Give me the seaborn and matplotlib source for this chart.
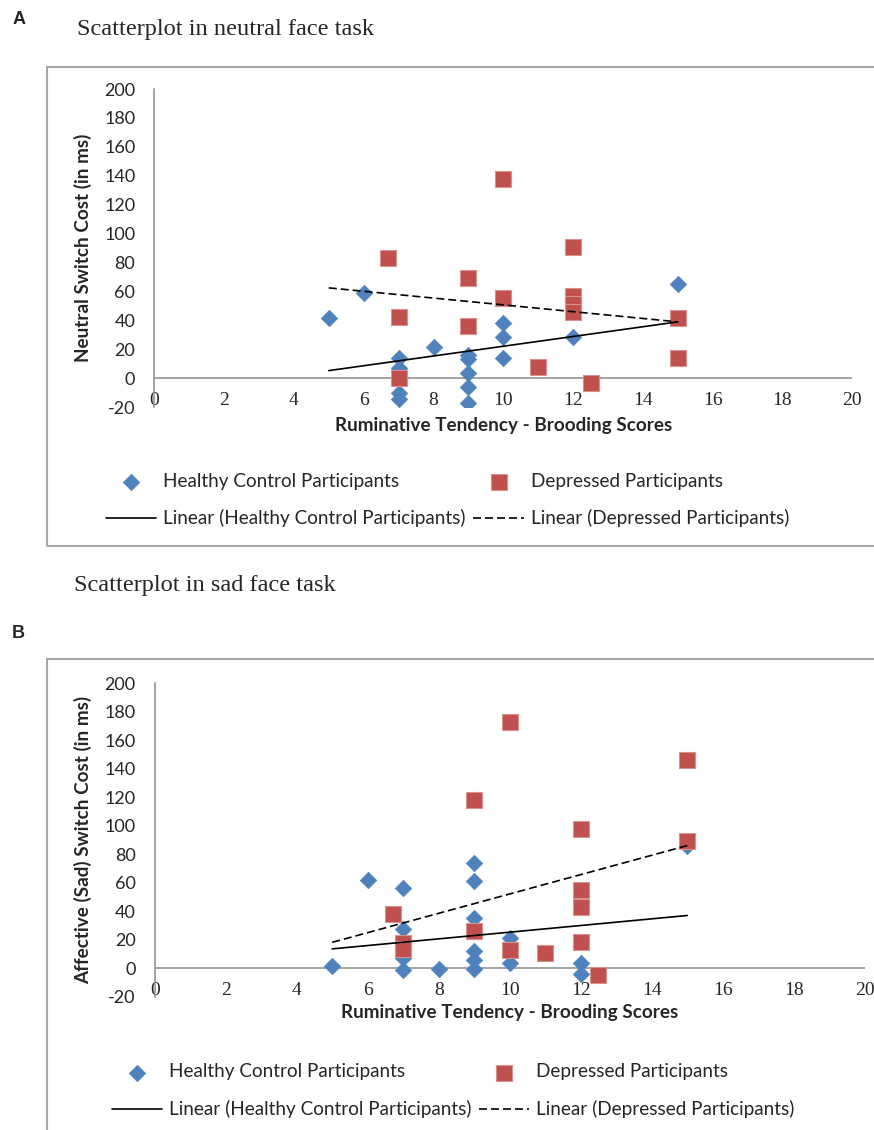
import matplotlib
matplotlib.use("Agg")
import matplotlib.pyplot as plt
import seaborn as sns
from matplotlib.patches import Rectangle

# ---------------- data ----------------
brooding_healthy_a = [5, 6, 7, 7, 7, 7, 8, 9, 9, 9, 9, 9, 10, 10, 10, 12, 15]
neutral_cost_healthy = [42, 59, 14, 7, -10.5, -14.5, 21.5, 16, 13.5, 3.5, -5.8, -17.3,
                        38, 28.3, 14, 28.8, 65]
brooding_depressed = [6.7, 7, 7, 9, 9, 10, 10, 11, 12, 12, 12, 12, 12.5, 15, 15]
neutral_cost_depressed = [83.5, 42.6, 0, 69, 36.4, 138, 55.3, 7.6, 90.5, 57, 51.5, 46,
                          -3, 41.7, 14]

brooding_healthy_b = [5, 6, 7, 7, 7, 7, 8, 9, 9, 9, 9, 9, 9, 10, 10, 12, 12, 15]
sad_cost_healthy = [1.5, 62, 56.5, 27.5, 7, -1, -0.7, 73.5, 61.5, 35, 12, 6, -0.7,
                    21, 4, 3.5, -4, 86]
sad_cost_depressed = [38, 18, 13.5, 118, 26, 172.5, 12.5, 11, 97.5, 55, 43, 18.5,
                      -5, 146, 89.5]

trend_x = [5, 15]
neutral_trend_healthy = [5.3, 39]
neutral_trend_depressed = [62.5, 39]
sad_trend_healthy = [13.6, 37]
sad_trend_depressed = [18.2, 86]

x_ticks = [0, 2, 4, 6, 8, 10, 12, 14, 16, 18, 20]
y_ticks = [-20, 0, 20, 40, 60, 80, 100, 120, 140, 160, 180, 200]

label_healthy = "Healthy Control Participants"
label_depressed = "Depressed Participants"
label_lin_healthy = "Linear (Healthy Control Participants)"
label_lin_depressed = "Linear (Depressed Participants)"

# ---------------- style ----------------
sns.set_style("white")
plt.rcParams["font.family"] = ["Lato", "DejaVu Sans"]

BLUE = "#4F81BD"
RED = "#C0504D"
AXGREY = "#8C8C8C"
BOXGREY = "#A6A6A6"

W, H = 874, 1130
fig = plt.figure(figsize=(W / 100, H / 100), dpi=100)


def fx(px):
    return px / W


def fy(py):
    return 1 - py / H


def panel(ax, hx, hy, dx, dy, th, td, ylabel, xlab_off, ylab_x):
    sns.scatterplot(x=hx, y=hy, ax=ax, marker="D", s=72, color=BLUE,
                    edgecolor=BLUE, linewidth=0.4, label=label_healthy, zorder=3)
    sns.scatterplot(x=dx, y=dy, ax=ax, marker="s", s=118, color=RED,
                    edgecolor="#D9928F", linewidth=0.8, label=label_depressed, zorder=4)
    sns.lineplot(x=trend_x, y=th, ax=ax, color="black", lw=1.2,
                 label=label_lin_healthy, zorder=5)
    sns.lineplot(x=trend_x, y=td, ax=ax, color="black", lw=1.2,
                 linestyle=(0, (4.8, 2.4)), label=label_lin_depressed, zorder=5)
    ax.axhline(0, color=AXGREY, lw=1.1, zorder=1)
    ax.set_xlim(0, 20)
    ax.set_ylim(-20, 200)
    ax.set_xticks(x_ticks)
    ax.set_xticklabels([str(v) for v in x_ticks], family="Liberation Serif", fontsize=14)
    ax.set_yticks(y_ticks)
    ax.set_yticklabels([str(v) for v in y_ticks], fontsize=13)
    ax.tick_params(axis="x", length=0, pad=-4.75)
    ax.tick_params(axis="y", length=0, pad=13.7)
    plt.setp(ax.get_xticklabels(), va="center")
    for s in ["top", "right", "bottom"]:
        ax.spines[s].set_visible(False)
    ax.spines["left"].set_color(AXGREY)
    ax.spines["left"].set_linewidth(1.1)
    ax.set_xlabel("Ruminative Tendency - Brooding Scores", fontsize=13.6,
                  fontweight="bold", va="center")
    ax.xaxis.set_label_coords(0.5, xlab_off)
    ax.set_ylabel(ylabel, fontsize=13.6, fontweight="bold", va="center", ha="center")
    ax.yaxis.set_label_coords(ylab_x, 0.5)
    handles, labels = ax.get_legend_handles_labels()
    if ax.get_legend() is not None:
        ax.get_legend().remove()
    hmap = dict(zip(labels, handles))
    return hmap


# Panel A axes
axA = fig.add_axes([fx(154.3), fy(407.2), fx(852.3) - fx(154.3), fy(89) - fy(407.2)])
hA = panel(axA, brooding_healthy_a, neutral_cost_healthy, brooding_depressed,
           neutral_cost_depressed, neutral_trend_healthy, neutral_trend_depressed,
           "Neutral Switch Cost (in ms)", -18.5 / 318.2, (83 - 154.3) / 698)

# Panel B axes
axB = fig.add_axes([fx(154.7), fy(996.8), fx(864.7) - fx(154.7), fy(683) - fy(996.8)])
hB = panel(axB, brooding_healthy_b, sad_cost_healthy, brooding_depressed,
           sad_cost_depressed, sad_trend_healthy, sad_trend_depressed,
           "Affective (Sad) Switch Cost (in ms)", -15.7 / 313.8, (83 - 154.7) / 710)


def add_legend(hmap, x0, ytop):
    order = [label_healthy, label_lin_healthy, label_depressed, label_lin_depressed]
    fig.legend([hmap[k] for k in order], order, ncol=2, loc="upper left",
               bbox_to_anchor=(fx(x0), fy(ytop)), frameon=False, fontsize=13.6,
               handlelength=2.65, handletextpad=0.37, columnspacing=0.42,
               labelspacing=1.05, borderpad=0, borderaxespad=0, scatterpoints=1)


add_legend(hA, 106, 472.5)
add_legend(hB, 111.5, 1063.5)

# Panel boxes
fig.add_artist(Rectangle((fx(46.7), fy(546)), 1.02 - fx(46.7), fy(66.7) - fy(546),
                         transform=fig.transFigure, fill=False, ec=BOXGREY, lw=1.5,
                         zorder=0))
fig.add_artist(Rectangle((fx(47.3), -0.02), 1.02 - fx(47.3), fy(659.3) + 0.02,
                         transform=fig.transFigure, fill=False, ec=BOXGREY, lw=1.5,
                         zorder=0))

# Panel letters and titles
fig.text(fx(12.5), fy(20), "A", family="Liberation Sans", fontweight="bold",
         fontsize=13, ha="left", va="center")
fig.text(fx(11.5), fy(633), "B", family="Liberation Sans", fontweight="bold",
         fontsize=13, ha="left", va="center")
fig.text(fx(76.7), fy(30), "Scatterplot in neutral face task", family="Liberation Serif",
         fontsize=17.6, ha="left", va="center")
fig.text(fx(74.3), fy(585), "Scatterplot in sad face task", family="Liberation Serif",
         fontsize=17.6, ha="left", va="center")

fig.savefig("out.png", dpi=100, facecolor="white")
